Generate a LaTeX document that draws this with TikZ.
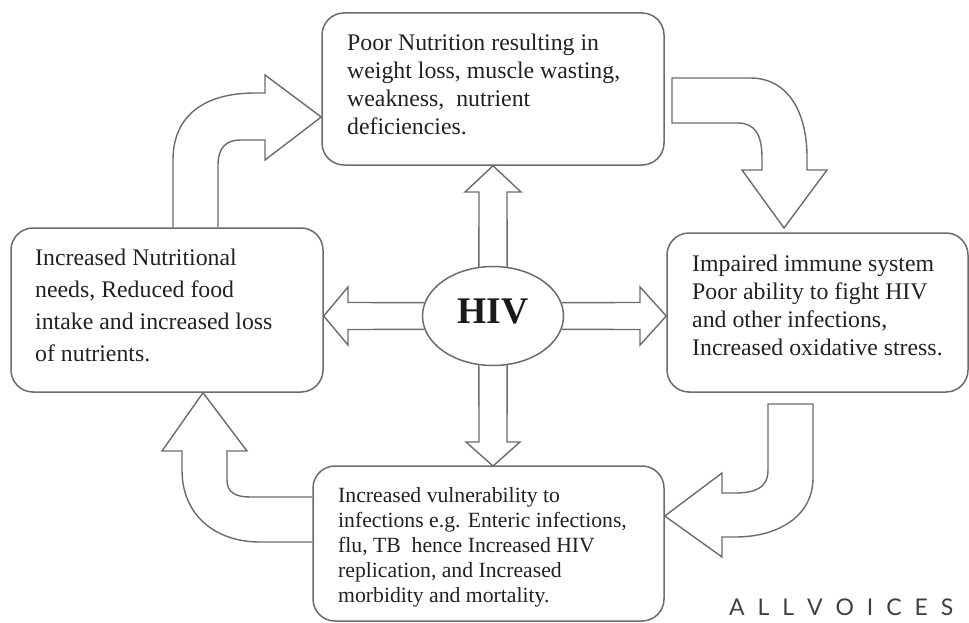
\documentclass[tikz,border=0pt]{standalone}
\usepackage{fontspec}
\setmainfont{Liberation Serif}
\newfontfamily\logofont{Lato}
\usetikzlibrary{shapes.geometric}
\definecolor{linegray}{gray}{0.42}
\definecolor{inkgray}{gray}{0.13}

\begin{document}
\begin{tikzpicture}[
		x=1pt, y=-1pt,
		box/.style={draw=linegray, line width=1.5pt, rounded corners=22pt, inner sep=0pt},
		blockarrow/.style={draw=linegray, line width=1.4pt},
		boxtext/.style={anchor=north west, align=left, inner sep=0pt, text=inkgray},
		bigfont/.style={font=\fontsize{23.8}{28}\selectfont}
	]
  \useasboundingbox (0,0) rectangle (969,623);
  % the four stages round the cycle
  \node (poor) [box, minimum width=342pt, minimum height=152pt] at (493,89) {};
  \node (needs) [box, minimum width=312pt, minimum height=164pt] at (167,310) {};
  \node (immune) [box, minimum width=301pt, minimum height=159pt] at (817.5,312.5) {};
  \node (vuln) [box, minimum width=351pt, minimum height=155pt] at (488.5,543.5) {};
  \node (poor_text) [boxtext, bigfont] at (347,34) {Poor Nutrition resulting in\\weight loss, muscle wasting,\\weakness,~ nutrient\\deficiencies.};
  \node (needs_text) [boxtext, font=\fontsize{23.8}{32}\selectfont] at (35,249) {Increased Nutritional\\needs, Reduced food\\intake and increased loss\\of nutrients.};
  \node (immune_text) [boxtext, bigfont] at (692,255) {Impaired immune system\\Poor ability to fight HIV\\and other infections,\\Increased oxidative stress.};
  \node (vuln_text) [boxtext, font=\fontsize{21.7}{25}\selectfont] at (338,487) {Increased vulnerability to\\infections e.g. Enteric infections,\\flu, TB~ hence Increased HIV\\replication, and Increased\\morbidity and mortality.};
  % centre
  \node (hiv) [ellipse, draw=linegray, line width=1.5pt, minimum width=141pt, minimum height=99pt, inner sep=0pt, text depth=9pt, text=black!90, font=\bfseries\fontsize{37.6}{38}\selectfont] at (493,316) {HIV};
  % straight arrows out of the centre
  \draw[blockarrow] (hiv.106) -- (479,192) -- (465,192) -- (poor.south) -- (521,192) -- (507,192) -- (hiv.74);
  \draw[blockarrow] (hiv.-106) -- (479,442) -- (466,442) -- (493,466) -- (520,442) -- (507,442) -- (hiv.-74);
  \draw[blockarrow] (hiv.169) -- (348,302.5) -- (348,287) -- (needs.east |- hiv.center) -- (348,345) -- (348,329.5) -- (hiv.191);
  \draw[blockarrow] (hiv.11) -- (640,302.5) -- (640,287) -- (immune.west |- hiv.center) -- (640,345) -- (640,329.5) -- (hiv.-11);
  % curved arrows of the cycle
  \draw[blockarrow] ([xshift=6pt]needs.north) -- (173,160) .. controls (173,115) and (205,93) .. (255,93) -- (265,93) -- (265,75) -- ([yshift=-28pt]poor.west) -- (265,160) -- (265,140) -- (240,140) .. controls (226,140) and (218,148) .. (218,165) -- ([xshift=51pt]needs.north);
  \draw[blockarrow] (672,78) -- (750,78) .. controls (790,78) and (807,115) .. (807,157) -- (807,170) -- (827,170) -- (784,228) -- (742,170) -- (762,170) -- (762,158) .. controls (762,135) and (755,123) .. (738,123) -- (672,123) -- cycle;
  \draw[blockarrow] (768,404) -- (813,404) -- (813,478) .. controls (813,515) and (780,537) .. (735,537) -- (722,537) -- (722,557) -- ([yshift=27.5pt]vuln.east) -- (722,473) -- (722,493) -- (735,493) .. controls (755,493) and (768,488) .. (768,470) -- cycle;
  \draw[blockarrow] ([yshift=1.5pt]vuln.west) -- (260,542) .. controls (215,542) and (182,515) .. (182,470) -- (182,451) -- (162,451) -- ([xshift=36pt]needs.south) -- (247,451) -- (227,451) -- (227,480) .. controls (227,492) and (235,497) .. (250,497) -- (vuln.west |- 0,497);
  % logo
  \node (logo) [anchor=base west, inner sep=0pt, text=black!75, font=\logofont\fontsize{23}{23}\selectfont] at (729,615) {\makebox[224pt][s]{A\hfil L\hfil L\hfil V\hfil O\hfil I\hfil C\hfil E\hfil S}};
\end{tikzpicture}
\end{document}
